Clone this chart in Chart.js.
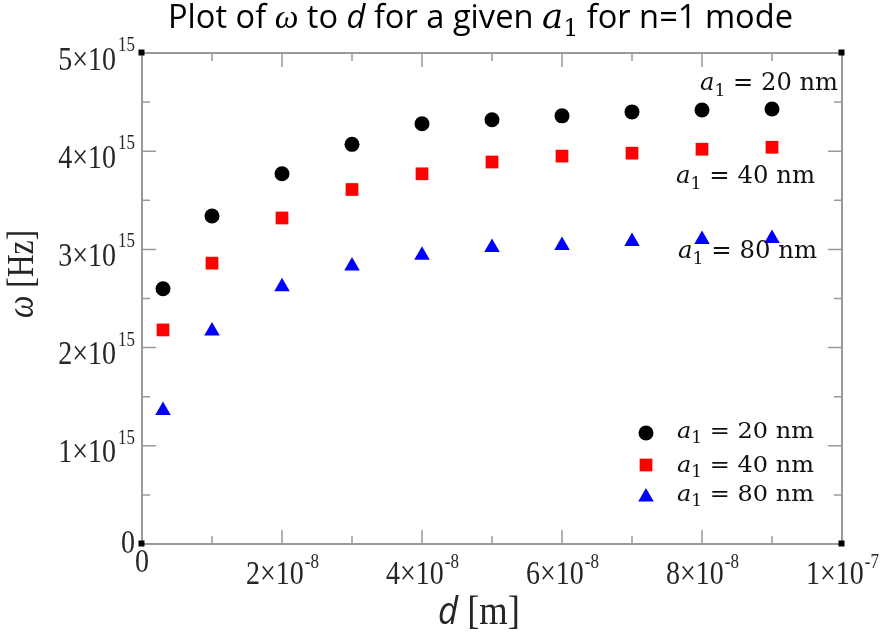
<!DOCTYPE html>
<html>
<head>
<meta charset="utf-8">
<script src="https://cdn.jsdelivr.net/npm/chart.js@4/dist/chart.umd.min.js"></script>
<style>
  html, body { margin: 0; padding: 0; background: #fff; }
  #wrap { width: 885px; height: 641px; }
</style>
</head>
<body>
<div id="wrap"><canvas id="chartOmega" width="885" height="641"></canvas></div>
<script>
// d [m] on x, omega [Hz] on y, one series per a1
const dValues = [3e-9, 1e-8, 2e-8, 3e-8, 4e-8, 5e-8, 6e-8, 7e-8, 8e-8, 9e-8];
const omegaA20 = [2.60e15, 3.34e15, 3.77e15, 4.07e15, 4.28e15, 4.32e15, 4.36e15, 4.40e15, 4.42e15, 4.43e15];
const omegaA40 = [2.18e15, 2.86e15, 3.32e15, 3.61e15, 3.77e15, 3.89e15, 3.95e15, 3.98e15, 4.02e15, 4.04e15];
const omegaA80 = [1.36e15, 2.17e15, 2.62e15, 2.83e15, 2.94e15, 3.02e15, 3.04e15, 3.08e15, 3.10e15, 3.11e15];
const seriesLabels = ["20 nm", "40 nm", "80 nm"];

const xMajor = [0, 2e-8, 4e-8, 6e-8, 8e-8, 1e-7];
const xMinor = [1e-8, 3e-8, 5e-8, 7e-8, 9e-8];
const xTickLabels = [["0", ""], ["2×10", "-8"], ["4×10", "-8"], ["6×10", "-8"], ["8×10", "-8"], ["1×10", "-7"]];
const yMajor = [0, 1e15, 2e15, 3e15, 4e15, 5e15];
const yMinor = [0.5e15, 1.5e15, 2.5e15, 3.5e15, 4.5e15];
const yTickLabels = [["0", ""], ["1×10", "15"], ["2×10", "15"], ["3×10", "15"], ["4×10", "15"], ["5×10", "15"]];

const SERIF = "'Liberation Serif', 'Times New Roman', serif";
const MATH = "'DejaVu Serif', serif";
const SANS = "'Open Sans', 'Noto Sans', sans-serif";

// draws a row of text pieces with different fonts, optionally squeezed to a width
function drawRuns(ctx, runs, x, y, o) {
  o = o || {};
  let w = 0;
  runs.forEach(r => { ctx.font = r.f; r.w = ctx.measureText(r.t).width; w += r.w; });
  const sx = o.width ? o.width / w : 1;
  ctx.save();
  ctx.translate(x, y);
  if (o.rotate) ctx.rotate(o.rotate);
  ctx.scale(sx, o.sy || 1);
  ctx.fillStyle = o.color || "#000";
  ctx.textBaseline = "alphabetic";
  ctx.textAlign = "left";
  let cx = o.align === "center" ? -w / 2 : o.align === "right" ? -w : 0;
  runs.forEach(r => { ctx.font = r.f; ctx.fillText(r.t, cx, r.dy || 0); cx += r.w; });
  ctx.restore();
}

function a1Runs(label) {
  return [
    { t: "a", f: "italic 21px " + MATH },
    { t: "1", f: "15px " + MATH, dy: 5 },
    { t: " = " + label, f: "21px " + MATH }
  ];
}

const framePlugin = {
  id: "frame",
  beforeDatasetsDraw(chart) {
    const ctx = chart.ctx;
    const a = chart.chartArea;
    const xs = chart.scales.x, ys = chart.scales.y;
    ctx.save();
    ctx.strokeStyle = "#999";
    ctx.lineWidth = 2;
    ctx.strokeRect(a.left, a.top, a.right - a.left, a.bottom - a.top);
    ctx.lineWidth = 1.5;
    ctx.beginPath();
    const tick = (vals, len) => {
      vals.forEach(v => {
        const px = xs.getPixelForValue(v);
        ctx.moveTo(px, a.bottom); ctx.lineTo(px, a.bottom - len);
        ctx.moveTo(px, a.top); ctx.lineTo(px, a.top + len);
      });
    };
    const tickY = (vals, len) => {
      vals.forEach(v => {
        const py = ys.getPixelForValue(v);
        ctx.moveTo(a.left, py); ctx.lineTo(a.left + len, py);
        ctx.moveTo(a.right, py); ctx.lineTo(a.right - len, py);
      });
    };
    tick(xMajor.slice(1, -1), 14); tick(xMinor, 8);
    tickY(yMajor.slice(1, -1), 14); tickY(yMinor, 8);
    ctx.stroke();
    ctx.fillStyle = "#000";
    [[a.left, a.top], [a.right, a.top], [a.left, a.bottom], [a.right, a.bottom]].forEach(p => {
      ctx.fillRect(p[0] - 3.5, p[1] - 3.5, 6, 6);
    });
    ctx.restore();
  },
  afterDraw(chart) {
    const ctx = chart.ctx;
    const a = chart.chartArea;
    const xs = chart.scales.x, ys = chart.scales.y;
    const tc = "#262626";
    const SY = 1.18;

    // y tick labels
    yMajor.forEach((v, i) => {
      const py = ys.getPixelForValue(v);
      const [m, e] = yTickLabels[i];
      if (!e) {
        drawRuns(ctx, [{ t: m, f: "28px " + SERIF }], a.left - 7, py + 9, { align: "right", color: tc, sy: SY });
      } else {
        ctx.font = "17px " + SERIF;
        const ew = ctx.measureText(e).width;
        drawRuns(ctx, [{ t: e, f: "17px " + SERIF }], a.left - 7, py - 2, { align: "right", color: tc, sy: SY });
        drawRuns(ctx, [{ t: m, f: "28px " + SERIF }], a.left - 9 - ew, py + 16.5, { align: "right", color: tc, sy: SY });
      }
    });

    // x tick labels
    xMajor.forEach((v, i) => {
      const px = xs.getPixelForValue(v);
      const [m, e] = xTickLabels[i];
      if (!e) {
        drawRuns(ctx, [{ t: m, f: "28px " + SERIF }], px, a.bottom + 28, { align: "center", color: tc, sy: SY });
      } else {
        ctx.font = "28px " + SERIF;
        const mw = ctx.measureText(m).width;
        ctx.font = "17px " + SERIF;
        const ew = ctx.measureText(e).width;
        const left = px - (mw + ew) / 2;
        drawRuns(ctx, [{ t: m, f: "28px " + SERIF }], left, a.bottom + 40, { color: tc, sy: SY });
        drawRuns(ctx, [{ t: e, f: "17px " + SERIF }], left + mw + 1, a.bottom + 24, { color: tc, sy: SY });
      }
    });

    // axis titles
    drawRuns(ctx, [
      { t: "d", f: "italic 36px " + SANS },
      { t: " [m]", f: "38px " + SERIF }
    ], 479, 624, { align: "center", color: tc, width: 82, sy: 1.05 });
    drawRuns(ctx, [
      { t: "ω", f: "italic 38px " + SERIF },
      { t: " [Hz]", f: "38px " + SERIF }
    ], 33, 274, { align: "center", color: tc, rotate: -Math.PI / 2, width: 88 });

    // title
    drawRuns(ctx, [
      { t: "Plot of ", f: "33px " + SANS },
      { t: "ω", f: "italic 34px " + SERIF },
      { t: " to ", f: "33px " + SANS },
      { t: "d", f: "italic 33px " + SANS },
      { t: " for a given ", f: "33px " + SANS },
      { t: "a", f: "italic 36px " + MATH },
      { t: "1", f: "24px " + MATH, dy: 8 },
      { t: " for n=1 mode", f: "33px " + SANS }
    ], 168, 28, { width: 625 });

    // labels beside the series
    drawRuns(ctx, a1Runs(seriesLabels[0]), 700, 90, { width: 138, color: "#111", sy: 1.12 });
    drawRuns(ctx, a1Runs(seriesLabels[1]), 676, 183, { width: 139, color: "#111", sy: 1.12 });
    drawRuns(ctx, a1Runs(seriesLabels[2]), 678, 258, { width: 139, color: "#111", sy: 1.12 });

    // legend
    const ly = [433, 465, 497];
    const legendX = 646;
    chart.data.datasets.forEach((ds, i) => {
      ctx.save();
      ctx.fillStyle = ds.backgroundColor;
      ctx.strokeStyle = ds.backgroundColor;
      ctx.lineWidth = 0;
      Chart.helpers.drawPoint(ctx, { pointStyle: ds.pointStyle, radius: ds.pointRadius, borderWidth: 0, rotation: 0 }, legendX, ly[i]);
      ctx.restore();
      drawRuns(ctx, a1Runs(seriesLabels[i]), 677, [438, 472, 501][i], { width: 137, color: "#111", sy: 1.05 });
    });
  }
};

const toPoints = ys => dValues.map((d, i) => ({ x: d, y: ys[i] }));

new Chart(document.getElementById("chartOmega").getContext("2d"), {
  type: "scatter",
  data: {
    datasets: [
      { label: seriesLabels[0], data: toPoints(omegaA20), pointStyle: "circle", pointRadius: 7.5, backgroundColor: "#000000", borderWidth: 0 },
      { label: seriesLabels[1], data: toPoints(omegaA40), pointStyle: "rect", pointRadius: 9, backgroundColor: "#ff0000", borderWidth: 0 },
      { label: seriesLabels[2], data: toPoints(omegaA80), pointStyle: "triangle", pointRadius: 9, backgroundColor: "#0000ff", borderWidth: 0 }
    ]
  },
  options: {
    responsive: false,
    animation: false,
    devicePixelRatio: 1,
    layout: { padding: { left: 142, top: 53, right: 43, bottom: 97 } },
    scales: {
      x: { type: "linear", min: 0, max: 1e-7, display: false },
      y: { type: "linear", min: 0, max: 5e15, display: false }
    },
    plugins: { legend: { display: false }, tooltip: { enabled: false }, title: { display: false } }
  },
  plugins: [framePlugin]
});
</script>
</body>
</html>
